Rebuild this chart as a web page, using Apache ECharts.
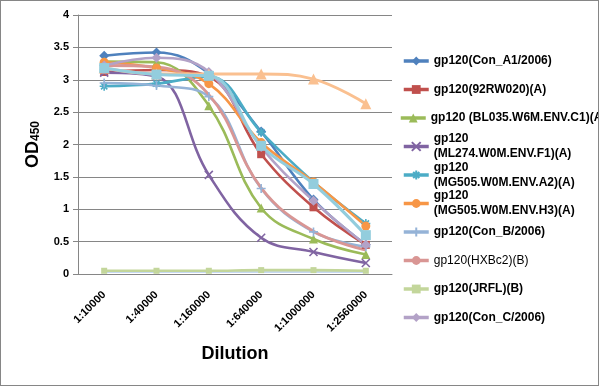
<!DOCTYPE html>
<html>
<head>
<meta charset="utf-8">
<script src="https://cdn.jsdelivr.net/npm/echarts@6/dist/echarts.min.js"></script>
<style>
html,body{margin:0;padding:0;background:#fff;}
#wrap{width:599px;height:386px;box-sizing:border-box;border:1px solid #868686;background:#fff;}
#chart{width:597px;height:384px;}
</style>
</head>
<body>
<div id="wrap"><div id="chart"></div></div>
<script>
const categories = ['1:10000','1:40000','1:160000','1:640000','1:1000000','1:2560000'];
const yTicks = [0, 0.5, 1, 1.5, 2, 2.5, 3, 3.5, 4];

const nameConA1 = 'gp120(Con_A1/2006)';
const name92RW = 'gp120(92RW020)(A)';
const nameBL035 = 'gp120 (BL035.W6M.ENV.C1)(A)';
const nameML274 = 'gp120\n(ML274.W0M.ENV.F1)(A)';
const nameMG505A2 = 'gp120\n(MG505.W0M.ENV.A2)(A)';
const nameMG505H3 = 'gp120\n(MG505.W0M.ENV.H3)(A)';
const nameConB = 'gp120(Con_B/2006)';
const nameHXBc2 = 'gp120(HXBc2)(B)';
const nameJRFL = 'gp120(JRFL)(B)';
const nameConC = 'gp120(Con_C/2006)';
const nameExtra1 = 'series11';
const nameExtra2 = 'series12';
const nameExtra3 = 'series13';

const valConA1   = [3.37, 3.42, 3.10, 2.20, 1.15, 0.45];
const val92RW    = [3.12, 3.15, 3.05, 1.85, 1.03, 0.45];
const valBL035   = [3.28, 3.27, 2.60, 1.02, 0.54, 0.30];
const valML274   = [3.11, 3.05, 1.53, 0.56, 0.34, 0.17];
const valMG505A2 = [2.90, 2.94, 3.05, 2.19, 1.42, 0.78];
const valMG505H3 = [3.27, 3.18, 2.94, 2.03, 1.42, 0.74];
const valConB    = [2.95, 2.91, 2.74, 1.32, 0.65, 0.42];
const valHXBc2   = [3.22, 3.20, 2.77, 1.33, 0.66, 0.37];
const valJRFL    = [0.05, 0.05, 0.05, 0.06, 0.06, 0.05];
const valConC    = [3.22, 3.34, 3.12, 1.96, 1.13, 0.45];
const valExtra1  = [3.18, 3.09, 3.09, 3.09, 3.01, 2.63];
const valExtra2  = [3.18, 3.08, 3.06, 1.98, 1.39, 0.60];
const valExtra3  = [0.04, 0.04, 0.04, 0.04, 0.04, 0.04];

const symX = 'path://M0,0L10,10M10,0L0,10';
const symStar = 'path://M5,0L5,10M0,5L10,5M1.5,1.5L8.5,8.5M8.5,1.5L1.5,8.5';
const symPlus = 'path://M5,0L5,10M0,5L10,5';

function mk(name, data, color, symbol, size, opts) {
  opts = opts || {};
  const s = {
    name: name, type: 'line', data: data, smooth: 0.4,
    symbol: symbol, symbolSize: size, showSymbol: symbol !== 'none',
    lineStyle: {color: color, width: opts.width || 2.6},
    itemStyle: {color: color},
    emphasis: {disabled: true},
    animation: false
  };
  if (opts.stroke) {
    s.itemStyle = {color: color, borderColor: opts.stroke, borderWidth: 1.6};
  }
  return s;
}

const series = [
  mk(nameExtra3, valExtra3, '#C6D9F1', 'none', 0, {width: 3}),
  mk(nameJRFL, valJRFL, '#C3D69B', 'rect', 6, {width: 2.6}),
  mk(nameConA1, valConA1, '#4F81BD', 'diamond', 10),
  mk(name92RW, val92RW, '#C0504D', 'rect', 8),
  mk(nameBL035, valBL035, '#9BBB59', 'triangle', 9),
  mk(nameML274, valML274, '#8064A2', symX, 8, {stroke: '#8064A2'}),
  mk(nameMG505A2, valMG505A2, '#4BACC6', symStar, 9, {stroke: '#4BACC6'}),
  mk(nameMG505H3, valMG505H3, '#F79646', 'circle', 9),
  mk(nameConB, valConB, '#95B3D7', symPlus, 9, {stroke: '#95B3D7'}),
  mk(nameHXBc2, valHXBc2, '#D99694', 'none', 0, {width: 2.8}),
  mk(nameConC, valConC, '#B3A2C7', 'diamond', 10),
  mk(nameExtra1, valExtra1, '#FAC090', 'triangle', 11, {width: 3}),
  mk(nameExtra2, valExtra2, '#93CDDD', 'rect', 10, {width: 3})
];

const legendNames = [nameConA1, name92RW, nameBL035, nameML274, nameMG505A2, nameMG505H3, nameConB, nameHXBc2, nameJRFL, nameConC];
const legends = legendNames.map(function (n, i) {
  const center = 60 + i * 28.5;
  const twoLine = n.indexOf('\n') >= 0;
  const ts = {
    color: '#000', fontSize: 12, fontWeight: n === nameHXBc2 ? 'normal' : 'bold',
    fontFamily: 'Liberation Sans, Arial, sans-serif', lineHeight: 15
  };
  if (twoLine) ts.padding = [15, 0, 0, 0];
  if (n === nameBL035) { ts.width = 176; ts.overflow = 'truncate'; ts.ellipsis = ''; }
  return {
    data: [n], orient: 'vertical', left: n === nameBL035 ? 398 : 401,
    top: twoLine ? center - 22.5 : center - 7.5,
    itemWidth: 25, itemHeight: 11, itemGap: 0, padding: 0,
    lineStyle: {width: 3.5},
    selectedMode: false, textStyle: ts
  };
});

const chart = echarts.init(document.getElementById('chart'), null, {renderer: 'canvas'});
chart.setOption({
  backgroundColor: '#fff',
  animation: false,
  grid: {left: 77, right: 206, top: 14, bottom: 111, containLabel: false},
  legend: legends,
  xAxis: {
    type: 'category', data: categories, boundaryGap: true,
    axisLine: {lineStyle: {color: '#868686', width: 1}},
    axisTick: {show: false},
    axisLabel: {rotate: 45, margin: 19, color: '#000', fontSize: 11, fontWeight: 'bold', fontFamily: 'Liberation Sans, Arial, sans-serif', interval: 0},
    name: 'Dilution', nameLocation: 'middle', nameGap: 71,
    nameTextStyle: {color: '#000', fontSize: 18, fontWeight: 'bold', fontFamily: 'Liberation Sans, Arial, sans-serif'}
  },
  yAxis: {
    type: 'value', min: yTicks[0], max: yTicks[yTicks.length - 1], interval: 0.5,
    axisLine: {show: true, lineStyle: {color: '#868686', width: 1}},
    axisTick: {show: true, length: 5, lineStyle: {color: '#868686'}},
    splitLine: {lineStyle: {color: '#868686', width: 1}},
    axisLabel: {margin: 9, color: '#000', fontSize: 11, fontWeight: 'bold', fontFamily: 'Liberation Sans, Arial, sans-serif'},
    name: '{a|OD}{b|450}', nameLocation: 'middle', nameGap: 36,
    nameTextStyle: {
      rich: {
        a: {fontSize: 18, fontWeight: 'bold', color: '#000', fontFamily: 'Liberation Sans, Arial, sans-serif'},
        b: {fontSize: 12, fontWeight: 'bold', color: '#000', fontFamily: 'Liberation Sans, Arial, sans-serif', verticalAlign: 'bottom'}
      }
    }
  },
  series: series
});
</script>
</body>
</html>
